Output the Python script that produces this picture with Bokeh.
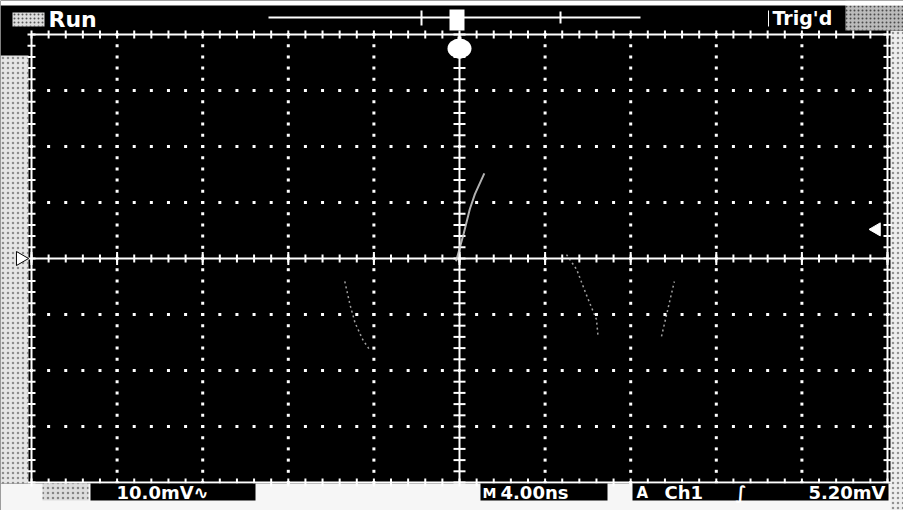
import numpy as np
from bokeh.plotting import figure
from bokeh.models import Label, Range1d
from bokeh.embed import file_html
from bokeh.resources import INLINE

# ---------------- data (in screen divisions) ----------------
rise_t = [-0.04, 0.05, 0.12, 0.18, 0.29]
rise_v = [-0.05, 0.45, 0.88, 1.15, 1.52]
fall_t = [1.25, 1.37, 1.48, 1.60, 1.62]
fall_v = [0.07, -0.20, -0.64, -1.09, -1.41]
left_t = [-1.34, -1.28, -1.22, -1.13, -1.05]
left_v = [-0.41, -0.82, -1.15, -1.45, -1.63]
right_t = [2.36, 2.45, 2.51]
right_v = [-1.39, -0.80, -0.41]

status_run = "Run"
status_trig = "Trig'd"
volts_label = "10.0mV\u223f"
time_prefix = "M"
time_label = "4.00ns"
trig_icon = "A"
trig_source = "Ch1"
trig_slope = "\u222b"
trig_level_label = "5.20mV"
trig_level_div = 0.52   # 5.20 mV / 10.0 mV per div

n_xdiv = 10
n_ydiv = 8

# ---------------- geometry: page px -> data ----------------
OFF = 0
W, H = 903, 510
GL, GR, GT, GB = 31, 887, 34, 482   # graticule edges on the page
sx = (GR - GL) / n_xdiv
sy = (GB - GT) / n_ydiv

def X(px):
    return (px - GL) / sx - n_xdiv / 2

def Y(py):
    return n_ydiv / 2 - (py - GT) / sy

x0, x1 = X(OFF), X(OFF + W)
y0, y1 = Y(OFF + H), Y(OFF)

p = figure(width=W, height=H, x_range=Range1d(x0, x1), y_range=Range1d(y0, y1),
           x_axis_type=None, y_axis_type=None, output_backend="svg",
           toolbar_location=None, min_border=0, background_fill_color="black",
           border_fill_color="black", outline_line_color=None)

FONT = "DejaVu Sans"
WHITE = "#ffffff"

# ---------------- outer light (photo) strips ----------------
p.quad(left=x0, right=x1, bottom=y0, top=Y(483), fill_color="#f6f6f6", line_color=None)
p.quad(left=x0, right=X(28), bottom=Y(483), top=Y(55), fill_color="#e6e6e6", line_color=None,
       hatch_pattern="dot", hatch_color="#333333", hatch_alpha=0.5, hatch_scale=5)
p.quad(left=X(890), right=x1, bottom=y0, top=Y(30), fill_color="#eeeeee", line_color=None,
       hatch_pattern="dot", hatch_color="#333333", hatch_alpha=0.5, hatch_scale=5)
p.quad(left=X(845), right=x1, bottom=Y(30), top=y1, fill_color="#bbbbbb", line_color=None,
       hatch_pattern="dot", hatch_color="#000000", hatch_alpha=0.6, hatch_scale=4)
p.quad(left=x0, right=x1, bottom=Y(5), top=y1, fill_color="#ffffff", line_color=None)

# ---------------- graticule ----------------
hx = n_xdiv / 2
hy = n_ydiv / 2
minor_x = np.round(np.arange(-hx, hx + 0.001, 0.2), 3)
minor_y = np.round(np.arange(-hy, hy + 0.001, 0.2), 3)

dot_x, dot_y = [], []
for k in range(-int(hx) + 1, int(hx)):
    if k == 0:
        continue
    dot_x += [k] * len(minor_y)
    dot_y += list(minor_y)
for k in range(-int(hy) + 1, int(hy)):
    if k == 0:
        continue
    dot_x += list(minor_x)
    dot_y += [k] * len(minor_x)
p.scatter(dot_x, dot_y, marker="square", size=3, fill_color=WHITE, line_color=None)

# border
p.quad(left=-hx, right=hx, bottom=-hy, top=hy, fill_alpha=0, line_color=WHITE, line_width=2)
# border ticks
p.scatter(minor_x, [hy] * len(minor_x), marker="dash", angle=np.pi / 2, size=8, line_color=WHITE, line_width=2)
p.scatter(minor_x, [-hy] * len(minor_x), marker="dash", angle=np.pi / 2, size=8, line_color=WHITE, line_width=2)
p.scatter([-hx] * len(minor_y), minor_y, marker="dash", size=8, line_color=WHITE, line_width=2)
p.scatter([hx] * len(minor_y), minor_y, marker="dash", size=8, line_color=WHITE, line_width=2)

# center axes
p.segment(x0=[-hx, 0], y0=[0, -hy], x1=[hx, 0], y1=[0, hy], line_color=WHITE, line_width=2)
p.scatter(minor_x, [0] * len(minor_x), marker="dash", angle=np.pi / 2, size=8, line_color=WHITE, line_width=2)
major_x = list(range(-int(hx), int(hx) + 1))
p.scatter(major_x, [0] * len(major_x), marker="dash", angle=np.pi / 2, size=13, line_color=WHITE, line_width=2)
p.scatter([0] * len(minor_y), minor_y, marker="dash", size=12, line_color=WHITE, line_width=2)

# ---------------- waveform (faint) ----------------
p.line(rise_t, rise_v, line_color="#d0d0d0", line_width=2, line_alpha=0.85)
p.multi_line(xs=[fall_t, left_t, right_t], ys=[fall_v, left_v, right_v],
             line_color="#c8c8c8", line_width=1.5, line_dash="2 3", line_alpha=0.8)

# ---------------- markers ----------------
p.scatter([X(876)], [trig_level_div], marker="triangle", angle=np.pi / 2, size=13,
          fill_color=WHITE, line_color=WHITE)
p.scatter([X(20)], [0], marker="triangle", angle=-np.pi / 2, size=14,
          fill_color=WHITE, line_color="black", line_width=1)
p.ellipse(x=[0], y=[Y(48)], width=[24 / sx], height=[20 / sy], fill_color=WHITE, line_color=None)
p.segment(x0=[0], y0=[Y(58)], x1=[0], y1=[Y(36)], line_color=WHITE, line_width=4)

# ---------------- top status bar ----------------
p.segment(x0=[X(268)], y0=[Y(17)], x1=[X(640)], y1=[Y(17)], line_color=WHITE, line_width=2)
p.segment(x0=[X(421), X(560)], y0=[Y(10), Y(11)], x1=[X(421), X(560)], y1=[Y(25), Y(23)],
          line_color=WHITE, line_width=2)
p.quad(left=[X(449)], right=[X(464)], bottom=[Y(30)], top=[Y(9)], fill_color=WHITE, line_color=None)
p.quad(left=[X(12)], right=[X(44)], bottom=[Y(26)], top=[Y(12)], fill_color="#dddddd", line_color=None,
       hatch_pattern="dot", hatch_color="#000000", hatch_alpha=0.6, hatch_scale=4)
p.segment(x0=[X(768)], y0=[Y(10)], x1=[X(768)], y1=[Y(26)], line_color=WHITE, line_width=1)

def lab(px, py, text, size="18px", color=WHITE, align="left"):
    p.add_layout(Label(x=X(px), y=Y(py), text=text, text_color=color, text_font=FONT,
                       text_font_size=size, text_font_style="bold",
                       text_baseline="middle", text_align=align))

lab(48, 19, status_run, "22px")
lab(772, 17, status_trig, "19px")

# ---------------- bottom readouts ----------------
p.quad(left=[X(90), X(480), X(632)], right=[X(255), X(607), X(888)],
       bottom=[Y(500)] * 3, top=[Y(483)] * 3, fill_color="black", line_color=None)
p.quad(left=[X(42)], right=[X(88)], bottom=[Y(500)], top=[Y(483)], fill_color="#dddddd", line_color=None,
       hatch_pattern="dot", hatch_color="#000000", hatch_alpha=0.4, hatch_scale=5)

lab(116, 492, volts_label, "18px")
lab(482, 492, time_prefix, "14px")
lab(500, 492, time_label, "18px")
lab(636, 492, trig_icon, "15px")
lab(664, 492, trig_source, "18px")
lab(735, 492, trig_slope, "18px")
lab(885, 492, trig_level_label, "18px", align="right")

open("out.html", "w").write(file_html(p, INLINE))
